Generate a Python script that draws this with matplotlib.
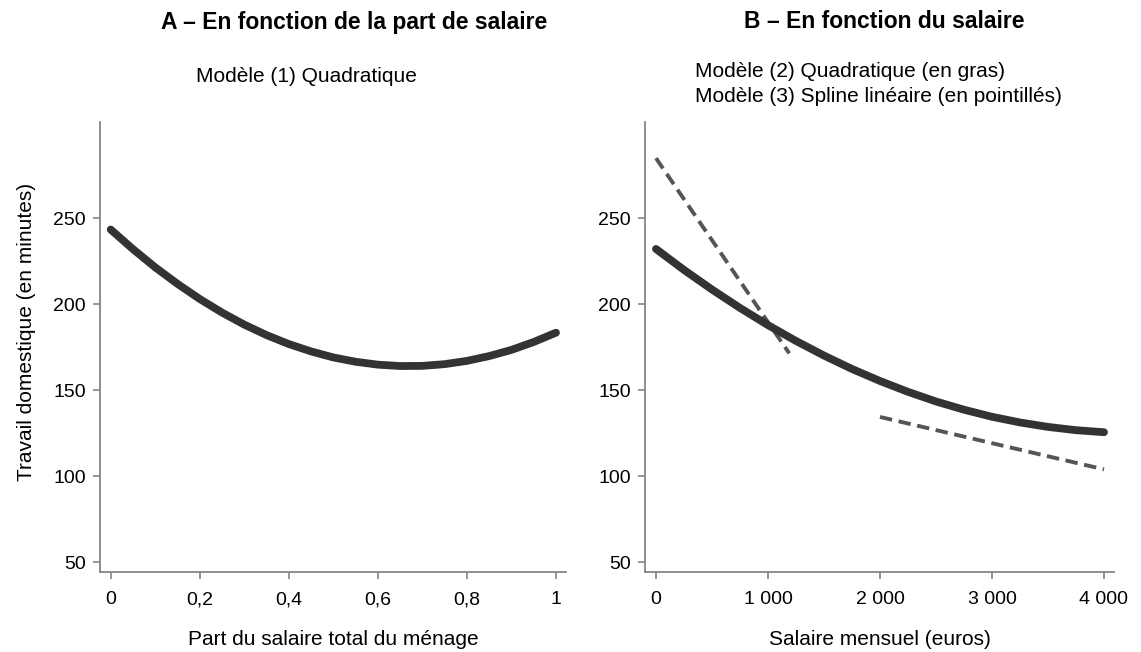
import matplotlib
matplotlib.use("Agg")
import matplotlib.pyplot as plt

plt.rcParams['font.family'] = ['Liberation Sans', 'DejaVu Sans']

# Panel A : modele (1) quadratique, part du salaire
part = [0, 0.05, 0.1, 0.15, 0.2, 0.25, 0.3, 0.35, 0.4, 0.45, 0.5,
        0.55, 0.6, 0.65, 0.7, 0.75, 0.8, 0.85, 0.9, 0.95, 1.0]
travail_a = [243.5, 232.1, 221.5, 211.9, 203.1, 195.2, 188.2, 182.1, 176.9, 172.6, 169.1,
             166.6, 164.9, 164.1, 164.2, 165.2, 167.1, 169.9, 173.5, 178.1, 183.5]

# Panel B : modele (2) quadratique, salaire mensuel
salaire = [0, 250, 500, 750, 1000, 1250, 1500, 1750, 2000,
           2250, 2500, 2750, 3000, 3250, 3500, 3750, 4000]
travail_b = [232.2, 220.0, 208.6, 197.9, 187.9, 178.7, 170.2, 162.4, 155.4,
             149.1, 143.5, 138.7, 134.6, 131.3, 128.7, 126.8, 125.6]

# modele (3) spline lineaire (deux segments)
spline1_x = [0, 1190]
spline1_y = [285.0, 171.5]
spline2_x = [2000, 4000]
spline2_y = [134.5, 104.0]

yticks = [50, 100, 150, 200, 250]
xticks_a = [0, 0.2, 0.4, 0.6, 0.8, 1]
xlabels_a = ['0', '0,2', '0,4', '0,6', '0,8', '1']
xticks_b = [0, 1000, 2000, 3000, 4000]
xlabels_b = ['0', '1 000', '2 000', '3 000', '4 000']

W, H = 1141, 652
fig = plt.figure(figsize=(W / 100, H / 100), dpi=100)

spine_col = '#858585'
fs_tick = 14
fs_lab = 15


def style(ax):
    for s in ['top', 'right']:
        ax.spines[s].set_visible(False)
    for s in ['left', 'bottom']:
        ax.spines[s].set_color(spine_col)
        ax.spines[s].set_linewidth(1.3)
    ax.tick_params(axis='both', colors=spine_col, labelcolor='black',
                   labelsize=fs_tick, length=5, width=1.2)
    ax.tick_params(axis='x', pad=9)
    ax.tick_params(axis='y', pad=5)
    ax.set_ylim(44.5, 306.2)
    ax.set_yticks(yticks)


# axes (positions en pixels)
ax1 = fig.add_axes([100 / W, (H - 571.7) / H, 466 / W, 450 / H])
ax2 = fig.add_axes([645 / W, (H - 571.7) / H, 469.3 / W, 450 / H])

style(ax1)
ax1.plot(part, travail_a, color='#333333', lw=5.6, solid_capstyle='round')
ax1.set_xlim(-0.024, 1.0225)
ax1.set_xticks(xticks_a)
ax1.set_xticklabels(xlabels_a)
ax1.set_xlabel('Part du salaire total du ménage', fontsize=fs_lab, labelpad=16)

style(ax2)
ax2.plot(spline1_x, spline1_y, color='#555555', lw=2.8, ls=(0, (3.2, 1.7)), zorder=2)
ax2.plot(spline2_x, spline2_y, color='#555555', lw=2.8, ls=(0, (3.2, 1.7)), zorder=2)
ax2.plot(salaire, travail_b, color='#333333', lw=5.6, solid_capstyle='round', zorder=3)
ax2.set_xlim(-98, 4092)
ax2.set_xticks(xticks_b)
ax2.set_xticklabels(xlabels_b)
ax2.set_xlabel('Salaire mensuel (euros)', fontsize=fs_lab, labelpad=16)

fig.text(27 / W, 1 - 332 / H, 'Travail domestique (en minutes)', rotation=90,
         ha='center', va='center', fontsize=fs_lab)

# titres et sous-titres
fig.text(354 / W, 1 - 28.5 / H, 'A – En fonction de la part de salaire',
         ha='center', va='baseline', fontsize=16.5, fontweight='bold')
fig.text(884 / W, 1 - 28.5 / H, 'B – En fonction du salaire',
         ha='center', va='baseline', fontsize=16.5, fontweight='bold')
fig.text(306 / W, 1 - 82 / H, 'Modèle (1) Quadratique',
         ha='center', va='baseline', fontsize=fs_lab)
fig.text(695 / W, 1 - 77 / H, 'Modèle (2) Quadratique (en gras)',
         ha='left', va='baseline', fontsize=fs_lab)
fig.text(695 / W, 1 - 102 / H, 'Modèle (3) Spline linéaire (en pointillés)',
         ha='left', va='baseline', fontsize=fs_lab)

fig.savefig('out.png', dpi=100)
